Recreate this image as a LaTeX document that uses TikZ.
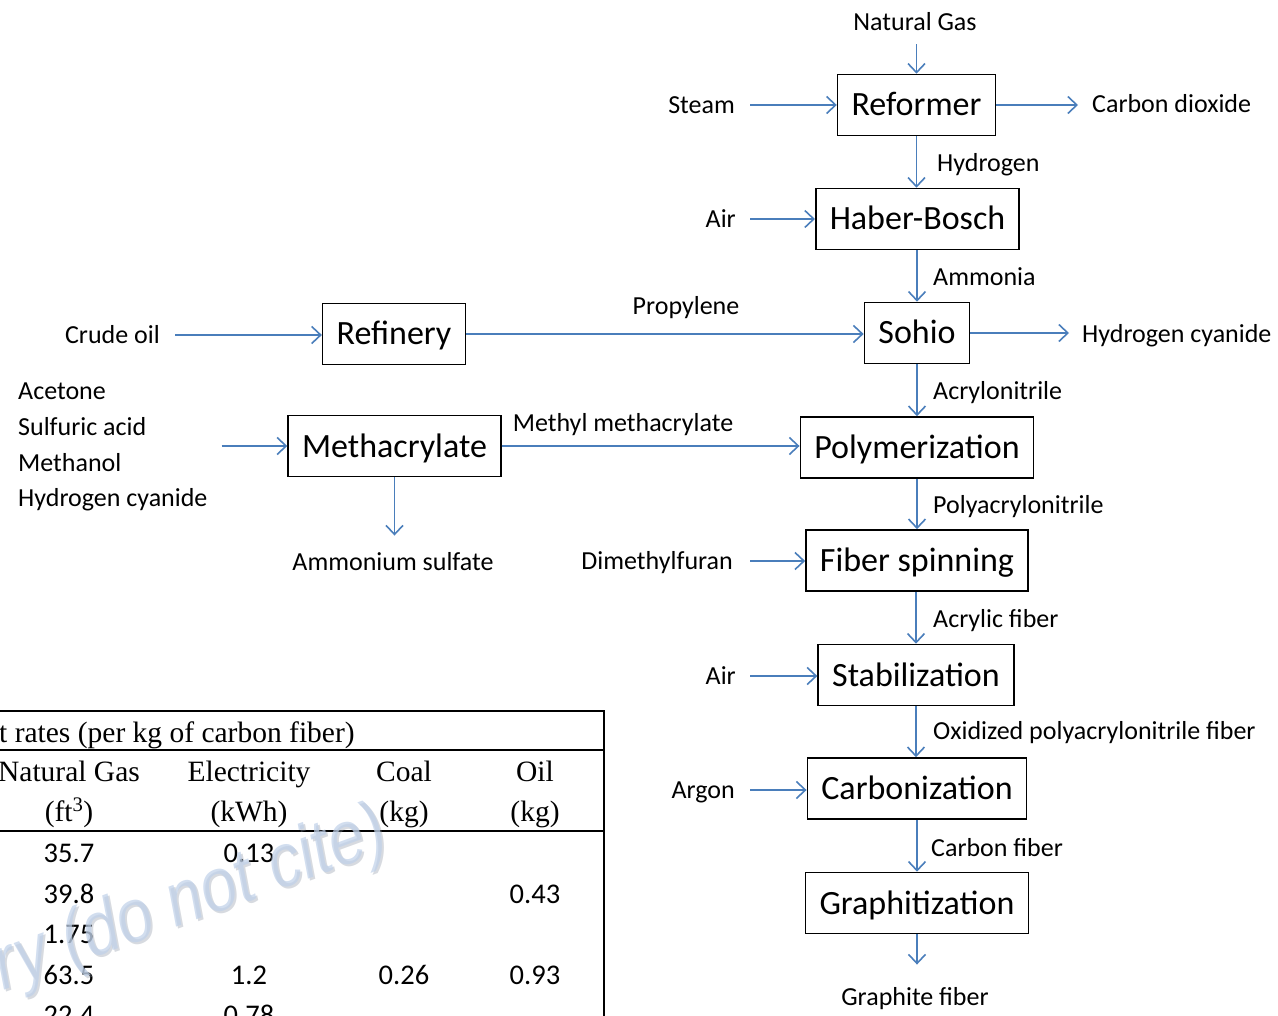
\documentclass[tikz,border=0pt]{standalone}
\usepackage{fontspec}
\setmainfont{Carlito}
\newfontfamily\tabfont{Liberation Serif}
\newfontfamily\markfont[FakeStretch=0.85]{Liberation Sans}
\usetikzlibrary{arrows.meta}
\definecolor{flowblue}{RGB}{74,126,187}
\definecolor{markblue}{RGB}{192,209,233}
\definecolor{markshade}{RGB}{140,150,165}
\tikzset{
  stage/.style={draw=black, line width=1.6pt, inner xsep=14pt, inner ysep=0pt,
    minimum height=61pt, text height=22pt, text depth=0pt,
    font=\fontsize{34}{39}\selectfont},
  lbl/.style={inner sep=0pt, text height=16.5pt, text depth=0pt,
    font=\fontsize{26}{31}\selectfont},
  flow/.style={draw=flowblue, line width=1.8pt,
    -{Straight Barb[length=9pt,width=17pt,line width=1.6pt]}},
  tabhead/.style={inner sep=0pt, anchor=base, font=\tabfont\fontsize{29.5}{34}\selectfont},
  tabnum/.style={inner sep=0pt, anchor=base, font=\fontsize{28.5}{34}\selectfont},
  rule/.style={line width=2.5pt, line cap=rect},
  markstyle/.style={rotate=20, anchor=base east, inner sep=0pt,
    font=\markfont\itshape\fontsize{76}{82}\selectfont}
}
\begin{document}
\begin{tikzpicture}[x=1pt,y=-1pt]
\clip (0,0) rectangle (1278,1016);

% process stages
\node[stage] (reformer)     at (916.5,105)  {Reformer};
\node[stage] (haber)        at (917.5,219)  {Haber-Bosch};
\node[stage] (sohio)        at (917,333)    {Sohio};
\node[stage] (refinery)     at (394,334)    {Refinery};
\node[stage] (methacrylate) at (394.5,446)  {Methacrylate};
\node[stage] (polymer)      at (917,447.5)  {Polymerization};
\node[stage] (fiberspin)    at (917,560.5)  {Fiber spinning};
\node[stage] (stabil)       at (916,675)    {Stabilization};
\node[stage] (carbon)       at (917,788.5)  {Carbonization};
\node[stage] (graphit)      at (917,903)    {Graphitization};

% inputs and outputs
\node[lbl] (natgas)   at (915,22)  {Natural Gas};
\node[lbl, anchor=east] (steam) at (735,105) {Steam};
\node[lbl, anchor=west] (co2)   at (1092,104) {Carbon dioxide};
\node[lbl, anchor=east] (air1)  at (736,219) {Air};
\node[lbl, anchor=east] (crude) at (160,335) {Crude oil};
\node[lbl, anchor=west] (hcn)   at (1082,334) {Hydrogen cyanide};
\node[lbl, anchor=north west, align=left, text height=, text depth=,
      font=\fontsize{26}{35.6}\selectfont] (list) at (18,383)
      {Acetone\\Sulfuric acid\\Methanol\\Hydrogen cyanide};
\node[lbl] (ammsulf)  at (393,562) {Ammonium sulfate};
\node[lbl, anchor=east] (dmf)   at (733,561) {Dimethylfuran};
\node[lbl, anchor=east] (air2)  at (736,676) {Air};
\node[lbl, anchor=east] (argon) at (735,790) {Argon};
\node[lbl] (graphite) at (915,997) {Graphite fiber};

% stream names
\node[lbl] (propylene) at (686,306) {Propylene};
\node[lbl] (mma)       at (623,423) {Methyl methacrylate};
\node[lbl, anchor=west] (hydrogen) at (937,163) {Hydrogen};
\node[lbl, anchor=west] (ammonia)  at (933,277) {Ammonia};
\node[lbl, anchor=west] (acn)      at (933,391) {Acrylonitrile};
\node[lbl, anchor=west] (pan)      at (933,505) {Polyacrylonitrile};
\node[lbl, anchor=west] (acrylic)  at (933,619) {Acrylic fiber};
\node[lbl, anchor=west] (oxpan)    at (933,731) {Oxidized polyacrylonitrile fiber};
\node[lbl, anchor=west] (cfiber)   at (931,848) {Carbon fiber};

% connectors
\draw[flow, shorten <=14pt] (natgas.south -| reformer.north) -- (reformer.north);
\draw[flow, shorten <=15pt] (steam.east) -- (steam.east -| reformer.west);
\draw[flow, shorten >=14pt] (reformer.east) -- (reformer.east -| co2.west);
\draw[flow] (reformer.south) -- (reformer.south |- haber.north);
\draw[flow, shorten <=14pt] (air1.east) -- (air1.east -| haber.west);
\draw[flow] (haber.south -| sohio.north) -- (sohio.north);
\draw[flow, shorten <=15pt] (crude.east) -- (crude.east -| refinery.west);
\draw[flow] (refinery.east) -- (refinery.east -| sohio.west);
\draw[flow, shorten >=13pt] (sohio.east) -- (sohio.east -| hcn.west);
\draw[flow] (sohio.south) -- (sohio.south |- polymer.north);
\draw[flow, shorten <=14pt] (list.east |- methacrylate.west) -- (methacrylate.west);
\draw[flow] (methacrylate.east) -- (methacrylate.east -| polymer.west);
\draw[flow, shorten >=18pt] (methacrylate.south) -- (methacrylate.south |- ammsulf.north);
\draw[flow] (polymer.south) -- (polymer.south |- fiberspin.north);
\draw[flow, shorten <=17pt] (dmf.east) -- (dmf.east -| fiberspin.west);
\draw[flow] (fiberspin.south -| stabil.north) -- (stabil.north);
\draw[flow, shorten <=14pt] (air2.east) -- (air2.east -| stabil.west);
\draw[flow] (stabil.south) -- (stabil.south |- carbon.north);
\draw[flow, shorten <=15pt] (argon.east) -- (argon.east -| carbon.west);
\draw[flow] (carbon.south) -- (carbon.south |- graphit.north);
\draw[flow, shorten >=24pt] (graphit.south) -- (graphit.south |- graphite.north);

% energy input table
\coordinate (tl) at (0,711);
\coordinate (tr) at (604,711);
\coordinate (ml) at (0,750);
\coordinate (mr) at (604,750);
\coordinate (hl) at (0,831);
\coordinate (hr) at (604,831);
\coordinate (br) at (604,1030);
\draw[line width=2pt] (tl) -- (tr);
\draw[rule] (ml) -- (mr);
\draw[rule] (hl) -- (hr);
\draw[rule] (tr) -- (br);

\node[tabhead, anchor=base west] (ttitle) at (-1,742) {t rates (per kg of carbon fiber)};
\node[tabhead] (hgas)  at (69,781)  {Natural Gas};
\node[tabhead] (ugas)  at (69,821)  {(ft\textsuperscript{3})};
\node[tabhead] (helec) at (249,781) {Electricity};
\node[tabhead] (uelec) at (249,821) {(kWh)};
\node[tabhead] (hcoal) at (404,781) {Coal};
\node[tabhead] (ucoal) at (404,821) {(kg)};
\node[tabhead] (hoil)  at (535,781) {Oil};
\node[tabhead] (uoil)  at (535,821) {(kg)};

\node[tabnum] (g1) at (69,862)  {35.7};
\node[tabnum] (g2) at (69,903)  {39.8};
\node[tabnum] (g3) at (69,943)  {1.75};
\node[tabnum] (g4) at (69,984)  {63.5};
\node[tabnum] (g5) at (69,1024) {22.4};
\node[tabnum] (e1) at (249,862)  {0.13};
\node[tabnum] (e4) at (249,984)  {1.2};
\node[tabnum] (e5) at (249,1024) {0.78};
\node[tabnum] (c4) at (404,984)  {0.26};
\node[tabnum] (o2) at (535,903)  {0.43};
\node[tabnum] (o4) at (535,984)  {0.93};

% draft watermark
\node[markstyle, text=markshade, opacity=0.35] (markshadow) at (394,851) {ry (do not cite)};
\node[markstyle, text=markblue, opacity=0.72] (mark) at (392,849) {ry (do not cite)};
\end{tikzpicture}
\end{document}
